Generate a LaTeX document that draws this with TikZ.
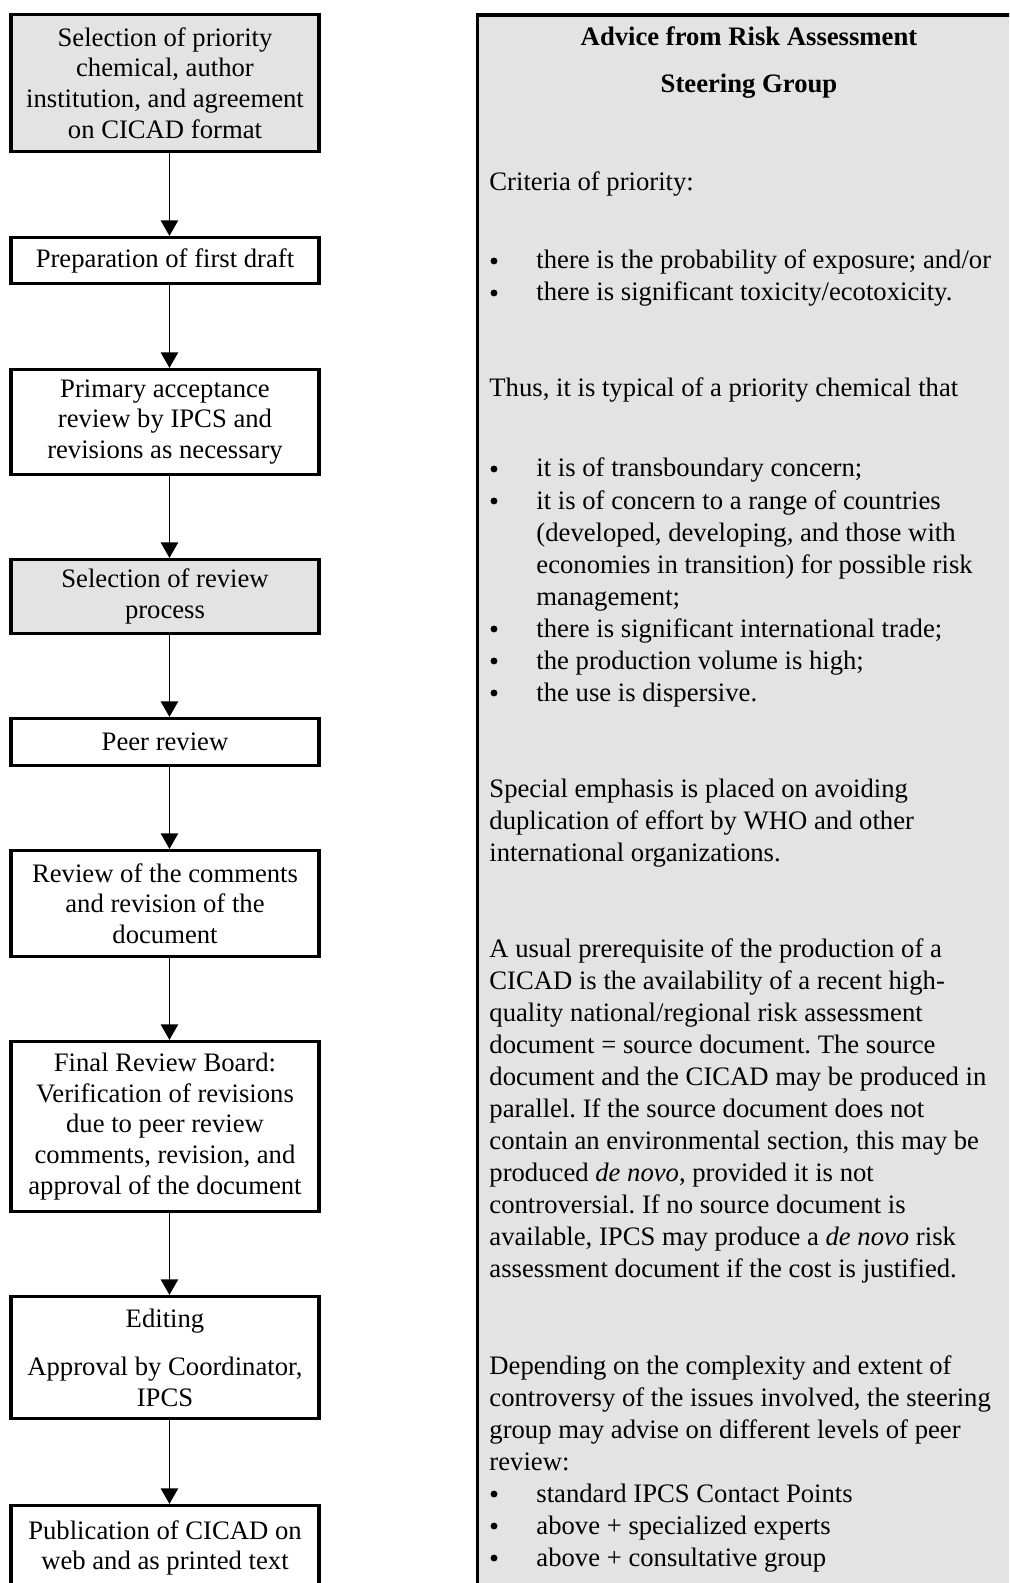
\documentclass[tikz,border=0pt]{standalone}
\usepackage{fontspec}
\setmainfont{Liberation Serif}
\frenchspacing
\usetikzlibrary{arrows.meta}
\definecolor{panelgray}{RGB}{227,227,227}
\begin{document}
\begin{tikzpicture}[x=0.45pt,y=-0.45pt,
  flowbox/.style={draw, line width=1.6pt, minimum width=138.8pt, align=center,
    inner sep=0pt, font=\fontsize{12}{13.8}\selectfont},
  grayfill/.style={fill=panelgray},
  arr/.style={line width=0.7pt, -{Triangle[width=7.8pt,length=7pt]}},
  ptext/.style={anchor=base west, inner sep=0pt, font=\fontsize{12}{14.4}\selectfont},
  ptitle/.style={anchor=base, inner sep=0pt, font=\fontsize{12}{14.4}\selectfont\bfseries},
  bul/.style={circle, fill=black, inner sep=0pt, minimum size=3.1pt}
]
\useasboundingbox (0,0) rectangle (1009,1583);
\clip (0,0) rectangle (1009,1583);

% right panel
\node (panel) [draw, line width=1.5pt, fill=panelgray, anchor=north west,
  minimum width=254pt, minimum height=723pt, inner sep=0pt] at (475.5,13.5) {};

% left flow boxes
\node (b1) [flowbox, grayfill, minimum height=61.5pt] at (165,83)
  {Selection of priority\\chemical, author\\institution, and agreement\\on CICAD format};
\node (b2) [flowbox, minimum height=20.55pt] at (165,260.5) {Preparation of first draft};
\node (b3) [flowbox, minimum height=47.1pt] at (165,422)
  {Primary acceptance\\review by IPCS and\\revisions as necessary};
\node (b4) [flowbox, grayfill, minimum height=33.15pt] at (165,596.5)
  {Selection of review\\process};
\node (b5) [flowbox, minimum height=21pt] at (165,742) {Peer review};
\node (b6) [flowbox, minimum height=47.55pt] at (165,903.5)
  {Review of the comments\\and revision of the\\document};
\node (b7) [flowbox, minimum height=76.35pt] at (165,1126.5)
  {Final Review Board:\\Verification of revisions\\due to peer review\\comments, revision, and\\approval of the document};
\node (b8) [flowbox, minimum height=54.75pt] at (165,1357.5)
  {Editing\\[8pt]Approval by Coordinator,\\IPCS};
\node (b9) [flowbox, minimum height=38.1pt] at (165,1548)
  {Publication of CICAD on\\web and as printed text};

\foreach \a/\b in {b1/b2,b2/b3,b3/b4,b4/b5,b5/b6,b6/b7,b7/b8,b8/b9}
  \draw[arr] ([xshift=2pt]\a.south) -- ([xshift=2pt]\b.north);

% panel text
\node (t1) [ptitle] at (749,46) {Advice from Risk Assessment};
\node (t2) [ptitle] at (749,93) {Steering Group};
\node (c1) [ptext] at (489,191) {Criteria of priority:};

\foreach [count=\k] \t in {{there is the probability of exposure; and/or},
  {there is significant toxicity/ecotoxicity.}} {
  \node (ba\k) [bul] at (494,{269+32*(\k-1)-8}) {};
  \node (la\k) [ptext] at (536,{269+32*(\k-1)}) {\t};
}

\node (th) [ptext] at (489,397) {Thus, it is typical of a priority chemical that};

\foreach [count=\k] \t in {{it is of transboundary concern;},
  {it is of concern to a range of countries},
  {(developed, developing, and those with},
  {economies in transition) for possible risk},
  {management;},
  {there is significant international trade;},
  {the production volume is high;},
  {the use is dispersive.}} {
  \node (lb\k) [ptext] at (536,{477+32*(\k-1)}) {\t};
}
\foreach \k in {1,2,6,7,8}
  \node (bb\k) [bul] at (494,{477+32*(\k-1)-8}) {};

\foreach [count=\k] \t in {{Special emphasis is placed on avoiding},
  {duplication of effort by WHO and other},
  {international organizations.}} {
  \node (sp\k) [ptext] at (489,{797+32*(\k-1)}) {\t};
}

\foreach [count=\k] \t in {{A usual prerequisite of the production of a},
  {CICAD is the availability of a recent high-},
  {quality national/regional risk assessment},
  {document = source document. The source},
  {document and the CICAD may be produced in},
  {parallel. If the source document does not},
  {contain an environmental section, this may be},
  {produced \emph{de novo}, provided it is not},
  {controversial. If no source document is},
  {available, IPCS may produce a \emph{de novo} risk},
  {assessment document if the cost is justified.}} {
  \node (au\k) [ptext] at (489,{957+32*(\k-1)}) {\t};
}

\foreach [count=\k] \t in {{Depending on the complexity and extent of},
  {controversy of the issues involved, the steering},
  {group may advise on different levels of peer},
  {review:}} {
  \node (dp\k) [ptext] at (489,{1374+32*(\k-1)}) {\t};
}
\foreach [count=\k] \t in {{standard IPCS Contact Points},
  {above + specialized experts},
  {above + consultative group}} {
  \node (bc\k) [bul] at (494,{1502+32*(\k-1)-8}) {};
  \node (lc\k) [ptext] at (536,{1502+32*(\k-1)}) {\t};
}
\end{tikzpicture}
\end{document}
